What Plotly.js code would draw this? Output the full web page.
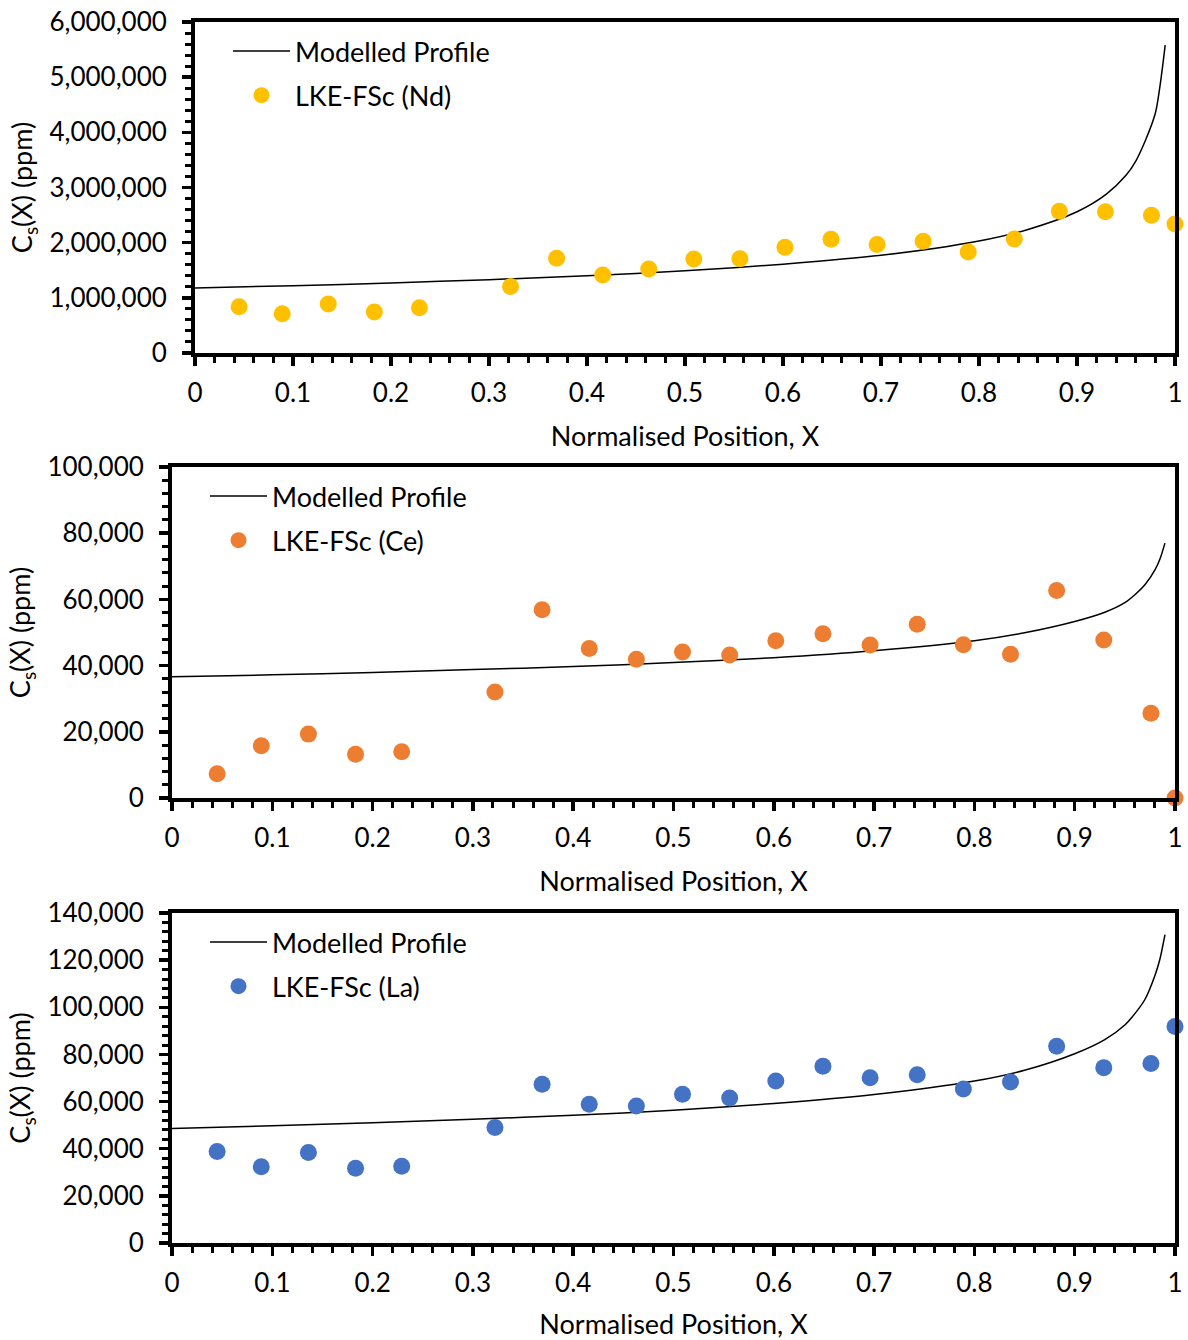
<!DOCTYPE html>
<html>
<head>
<meta charset="utf-8">
<script src="https://cdn.plot.ly/plotly-3.0.1.min.js"></script>
<style>
  body { margin: 0; background: #fff; }
  #chart { width: 1188px; height: 1340px; }
</style>
</head>
<body>
<div id="chart"></div>
<script>
// sample positions (same for all three elements)
const samplePos = [0.045, 0.089, 0.136, 0.183, 0.229, 0.322, 0.369, 0.416, 0.463, 0.509, 0.556,
                   0.602, 0.649, 0.696, 0.743, 0.789, 0.836, 0.882, 0.929, 0.976, 1.0];

const ndMeasured = [839000, 712000, 888000, 743000, 821000, 1205000, 1716000, 1414000, 1523000, 1704000, 1709000,
                    1916000, 2061000, 1968000, 2025000, 1831000, 2066000, 2568000, 2561000, 2495000, 2338000];
const ceMeasured = [7300, 15800, 19300, 13200, 14000, 32000, 56900, 45200, 41900, 44100, 43200,
                    47500, 49600, 46200, 52500, 46300, 43400, 62700, 47700, 25600, 0];
const laMeasured = [38800, 32300, 38400, 31700, 32600, 49000, 67300, 58900, 58100, 63100, 61500,
                    68700, 75000, 70100, 71400, 65300, 68300, 83500, 74400, 76200, 91800];

// modelled profile
const modelPos = [0, 0.1, 0.2, 0.3, 0.4, 0.5, 0.6, 0.7, 0.8, 0.85, 0.9, 0.93, 0.95, 0.96, 0.97, 0.98, 0.985, 0.99];
const ndModel = [1180000, 1220000, 1270000, 1330000, 1400000, 1490000, 1610000, 1770000, 2030000, 2240000,
                 2560000, 2880000, 3220000, 3480000, 3860000, 4350000, 4880000, 5580000];
const ceModel = [36600, 37200, 37900, 38800, 39700, 40900, 42400, 44500, 47500, 49900,
                 53300, 56100, 59000, 61400, 64400, 68900, 72200, 77000];
const laModel = [48600, 49700, 51000, 52500, 54200, 56300, 59200, 63000, 68700, 73300,
                 80300, 86300, 92500, 97300, 103300, 113500, 120500, 130800];

const panels = [
  { label: 'LKE-FSc (Nd)', color: '#FFC000', data: ndMeasured, model: ndModel,
    yMax: 6000000, yStep: 1000000, yMinor: 200000 },
  { label: 'LKE-FSc (Ce)', color: '#ED7D31', data: ceMeasured, model: ceModel,
    yMax: 100000, yStep: 20000, yMinor: 4000 },
  { label: 'LKE-FSc (La)', color: '#4472C4', data: laMeasured, model: laModel,
    yMax: 140000, yStep: 20000, yMinor: 4000 }
];

const H = 1340, W = 1188;
// plot boxes in pixels: [left, right, top, bottom]
const boxes = [[195, 1175, 22, 353], [172, 1175, 467, 798], [172, 1175, 913, 1243]];

const tickFont = { family: 'Lato, "Open Sans", sans-serif', size: 26, color: '#000' };
const textFont = { family: 'Lato, "Open Sans", sans-serif', size: 27, color: '#000' };
let traces = [];
let layout = {
  width: W, height: H,
  margin: { l: 0, r: 0, t: 0, b: 0 },
  paper_bgcolor: '#fff', plot_bgcolor: '#fff',
  font: textFont,
  showlegend: true
};

panels.forEach(function (p, i) {
  let n = i + 1;
  let sfx = n === 1 ? '' : String(n);
  let b = boxes[i];
  let legName = 'legend' + sfx;

  traces.push({
    x: modelPos, y: p.model, type: 'scatter', mode: 'lines',
    name: 'Modelled Profile', line: { color: '#000', width: 1.5, shape: 'spline', smoothing: 0.8 },
    xaxis: 'x' + sfx, yaxis: 'y' + sfx, legend: legName, legendgroup: 'm' + n
  });
  traces.push({
    x: samplePos, y: p.data, type: 'scatter', mode: 'markers', cliponaxis: false,
    name: p.label, marker: { color: p.color, size: 17 },
    xaxis: 'x' + sfx, yaxis: 'y' + sfx, legend: legName, legendgroup: 'd' + n
  });

  let common = {
    showline: true, linecolor: '#000', linewidth: 4, mirror: true,
    showgrid: false, zeroline: false,
    ticks: 'outside', ticklen: 9, tickwidth: 3.5, tickcolor: '#000',
    tickfont: tickFont
  };

  layout['xaxis' + sfx] = Object.assign({}, common, {
    domain: [b[0] / W, b[1] / W],
    anchor: 'y' + sfx,
    range: [0, 1], dtick: 0.1, tick0: 0,
    ticklabelstandoff: 5,
    minor: { dtick: 0.02, ticks: 'outside', ticklen: 6, tickwidth: 3, tickcolor: '#000' },
    title: { text: 'Normalised Position, X', font: textFont, standoff: 21 }
  });
  layout['yaxis' + sfx] = Object.assign({}, common, {
    domain: [1 - b[3] / H, 1 - b[2] / H],
    anchor: 'x' + sfx,
    range: [0, p.yMax], dtick: p.yStep, tick0: 0, tickformat: ',d',
    ticklabelstandoff: 10,
    minor: { dtick: p.yMinor, ticks: 'outside', ticklen: 6, tickwidth: 3, tickcolor: '#000' },
    title: { text: 'C<sub>s</sub>(X) (ppm)', font: textFont, standoff: 10 }
  });

  layout[legName] = {
    x: (b[0] + 33) / W, xanchor: 'left',
    y: 1 - (b[2] + 5) / H, yanchor: 'top',
    bgcolor: 'rgba(0,0,0,0)', borderwidth: 0,
    font: textFont, itemwidth: 57,
    traceorder: 'grouped', tracegroupgap: 6
  };
});

Plotly.newPlot('chart', traces, layout, { displayModeBar: false, staticPlot: true });
</script>
</body>
</html>
